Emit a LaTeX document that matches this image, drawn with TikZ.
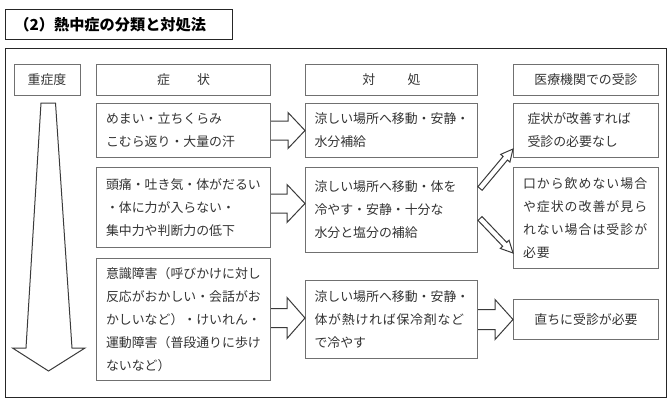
\documentclass[tikz,border=0pt]{standalone}
\usepackage{fontspec}
\setmainfont{Noto Sans CJK JP}
\usetikzlibrary{calc}
\definecolor{boxgray}{HTML}{707070}
\definecolor{txtgray}{HTML}{333333}
\definecolor{arrgray}{HTML}{3A3A3A}
\tikzset{
  cell/.style={draw=boxgray, line width=1pt, anchor=north west, inner ysep=0pt,
    inner xsep=9.5pt, align=left, text=txtgray, font=\fontsize{12.9}{23}\selectfont},
  headcell/.style={cell, align=center, inner xsep=0pt, minimum height=30.5pt},
  arrowline/.style={draw=arrgray, line width=1pt, line join=miter},
  outerframe/.style={draw=black!85, line width=1.2pt, anchor=north west, inner sep=0pt}
}
% block arrow: [closing] {start}{end}{half shaft}{half head}{head length}
\newcommand\blockarr[6][]{%
  \coordinate (ba-s) at (#2);
  \coordinate (ba-e) at (#3);
  \coordinate (ba-h) at ($(ba-e)!#6!(ba-s)$);
  \draw[arrowline] ($(ba-s)!#4!90:(ba-e)$) -- ($(ba-h)!#4!-90:(ba-s)$)
    -- ($(ba-h)!#5!-90:(ba-s)$) -- (ba-e) -- ($(ba-h)!#5!90:(ba-s)$)
    -- ($(ba-h)!#4!90:(ba-s)$) -- ($(ba-s)!#4!-90:(ba-e)$) #1;
}
\begin{document}
\begin{tikzpicture}[x=1pt, y=-1pt]
\useasboundingbox (0,0) rectangle (669,400);

% title
\node[outerframe, minimum width=227pt, minimum height=30pt] (tbox) at (5,9) {};
\node[anchor=west, inner sep=0pt, font=\fontsize{15.2}{18}\selectfont\bfseries] (title) at (14.2,24.5) {（2）熱中症の分類と対処法};

% outer frame
\node[outerframe, minimum width=660.5pt, minimum height=349pt] (frm) at (5,48) {};

% headers
\node[headcell, minimum width=66pt] (hsev) at (13.5,64) {重症度};
\node[headcell, minimum width=174pt] (hsym) at (96,64) {症\hspace{2.1em}状};
\node[headcell, minimum width=172pt] (hact) at (305,64) {対\hspace{2.5em}処};
\node[headcell, minimum width=145pt] (hmed) at (513,64) {医療機関での受診};

% symptoms
\node[cell, text width=155pt, minimum height=54pt] (s1) at (96,103)
  {めまい・立ちくらみ\\こむら返り・大量の汗};
\node[cell, text width=155pt, minimum height=80pt] (s2) at (96,167)
  {頭痛・吐き気・体がだるい\\・体に力が入らない・\\集中力や判断力の低下};
\node[cell, text width=155pt, minimum height=122pt] (s3) at (96,258)
  {意識障害（呼びかけに対し\\反応がおかしい・会話がお\\かしいなど）・けいれん・\\運動障害（普段通りに歩け\\ないなど）};

% actions
\node[cell, inner xsep=9pt, text width=154pt, minimum height=54pt] (a1) at (305,103)
  {涼しい場所へ移動・安静・\\水分補給};
\node[cell, inner xsep=9pt, text width=154pt, minimum height=85pt] (a2) at (305,167)
  {涼しい場所へ移動・体を\\冷やす・安静・十分な\\水分と塩分の補給};
\node[cell, inner xsep=9pt, text width=154pt, minimum height=78pt] (a3) at (305,280)
  {涼しい場所へ移動・安静・\\{\addfontfeatures{LetterSpace=6}体が熱ければ保冷剤など}\\で冷やす};

% medical
\node[cell, inner xsep=14pt, text width=117pt, minimum height=54pt] (r1) at (513,103)
  {症状が改善すれば\\受診の必要なし};
\node[cell, inner xsep=9.5pt, text width=126pt, minimum height=101pt,
  font=\fontsize{12.9}{23}\selectfont\addfontfeatures{LetterSpace=7.8}] (r2) at (513,167)
  {口から飲めない場合\\や症状の改善が見ら\\れない場合は受診が\\必要};
\node[cell, align=center, inner xsep=0pt, text width=145pt, minimum height=40pt] (r3) at (513,299)
  {直ちに受診が必要};

% severity arrow
\draw[arrowline] (41,103) -- (55.5,103) -- (72,348) -- (85,348) -- (48.5,371)
  -- (12.5,348) -- (26,348) -- cycle;

% connectors
\blockarr{s1.east}{a1.west}{9.5pt}{18pt}{17pt}
\blockarr{[yshift=4pt]s2.east}{[yshift=6.5pt]a2.west}{9.5pt}{19pt}{18pt}
\blockarr{[yshift=1.5pt]s3.east}{[yshift=1.5pt]a3.west}{9.5pt}{20.5pt}{18pt}
\blockarr{a3.east}{r3.west}{10pt}{20pt}{18pt}
\blockarr[-- cycle]{[xshift=2pt,yshift=21.5pt]a2.east}{[yshift=9pt]r1.south west}{2.8pt}{6pt}{12pt}
\blockarr[-- cycle]{[xshift=2pt,yshift=-8.5pt]a2.east}{[yshift=16pt]r2.south west}{2.8pt}{6pt}{12pt}
\end{tikzpicture}
\end{document}
